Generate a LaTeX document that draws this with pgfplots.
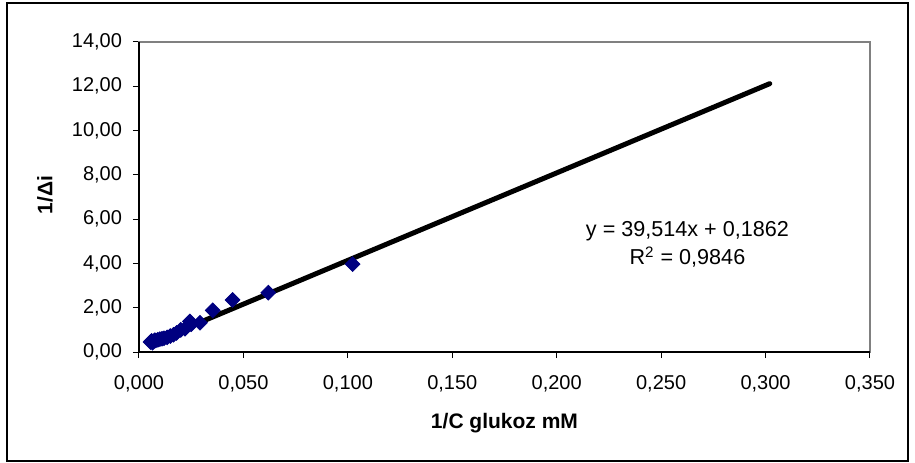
\documentclass[border=0pt]{standalone}
\usepackage{pgfplots}
\pgfplotsset{compat=1.18}
\usepackage{fontspec}
\setmainfont{Liberation Sans}
\definecolor{navyd}{RGB}{0,0,128}
\begin{document}
\fontsize{10bp}{12bp}\selectfont
\begin{tikzpicture}
\path[use as bounding box] (-69.5bp,-55.5bp) rectangle (388bp,176bp);
\draw[black, line width=0.6bp] (-66bp,-54.5bp) rectangle (384.5bp,174.5bp);
\begin{axis}[
  scale only axis,
  width=365.5bp, height=155bp,
  xmin=0, xmax=0.35, ymin=0, ymax=14,
  xtick={0,0.05,...,0.35}, ytick={0,2,...,14},
  axis line style={draw=gray, line width=0.6bp},
  tick align=outside, major tick length=3bp,
  tick style={black, line width=0.5bp},
  xtick pos=bottom, ytick pos=left,
  /pgf/number format/.cd, use comma, fixed, fixed zerofill, assume math mode=true,
  /pgfplots/.cd,
  xticklabel style={/pgf/number format/precision=3, yshift=-5bp},
  yticklabel style={/pgf/number format/precision=2, xshift=-2bp},
  ticklabel style={font=\fontsize{10bp}{12bp}\selectfont},
  xlabel={\textbf{1/C glukoz mM}},
  xlabel style={at={(axis description cs:0.5,0)}, anchor=center, yshift=-35.5bp, font=\fontsize{10.5bp}{12bp}\selectfont},
  clip=false,
]
\draw[black, line width=0.6bp] (rel axis cs:0,1) -- (rel axis cs:0,0) -- (rel axis cs:1,0);
\addplot[only marks, mark=square*, mark size=2.6bp, mark options={rotate=45, fill=navyd, draw=navyd}] coordinates {
(0.0055,0.45) (0.0060,0.50) (0.0065,0.42) (0.0070,0.48) (0.0075,0.53) (0.0080,0.52)
(0.0090,0.55) (0.0100,0.58) (0.0110,0.60) (0.0120,0.62) (0.0135,0.66)
(0.0150,0.72) (0.0165,0.78) (0.0180,0.86) (0.0200,1.00) (0.0220,1.05)
(0.0250,1.25) (0.0244,1.38) (0.0292,1.32) (0.0353,1.88) (0.0448,2.35)
(0.0619,2.68) (0.1023,3.97)
};
\addplot[black, line width=2.5bp, line cap=round] coordinates {(0.0053,0.396) (0.302,12.119)};
\node[anchor=base, font=\fontsize{10.8bp}{12bp}\selectfont] at (axis cs:0.2626,5.21) {y = 39,514x + 0,1862};
\node[anchor=base, font=\fontsize{10.8bp}{12bp}\selectfont] at (axis cs:0.2626,3.93) {R\textsuperscript{2} = 0,9846};
\end{axis}
\node[rotate=90, font=\bfseries\fontsize{10.5bp}{12bp}\selectfont] at (-47bp,78.5bp) {1/Δi};
\end{tikzpicture}
\end{document}
